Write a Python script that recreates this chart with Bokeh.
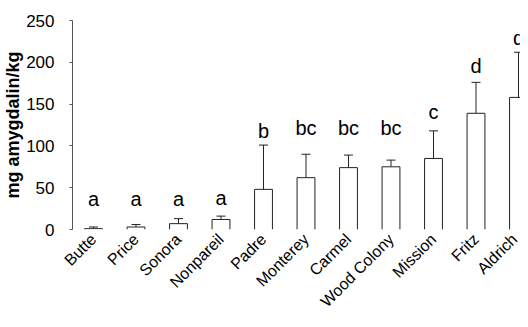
import math
from bokeh.plotting import figure
from bokeh.models import ColumnDataSource, Range1d, FixedTicker, Whisker, TeeHead
from bokeh.core.properties import value
from bokeh.embed import file_html
from bokeh.resources import INLINE

# ---- data ----
cultivars = ["Butte", "Price", "Sonora", "Nonpareil", "Padre", "Monterey",
             "Carmel", "Wood Colony", "Mission", "Fritz", "Aldrich"]
amygdalin = [1, 3, 7, 12, 48, 62, 74, 75, 85, 139, 158]   # mg amygdalin/kg
error = [2, 3, 6, 4, 53, 28, 15, 8, 33, 37, 54]
groups = ["a", "a", "a", "a", "b", "bc", "bc", "bc", "c", "d", "d"]
group_y = [37, 37, 37, 38, 118, 122, 122, 122, 141, 196, 229]
y_ticks = [0, 50, 100, 150, 200, 250]

FONT = "Liberation Sans"
BAR_W = 0.42

xs = list(range(len(cultivars)))
upper = [v + e for v, e in zip(amygdalin, error)]

# open-bottom bar outlines built from the values
outline_xs = [[x - BAR_W / 2, x - BAR_W / 2, x + BAR_W / 2, x + BAR_W / 2] for x in xs]
outline_ys = [[0, v, v, 0] for v in amygdalin]

src = ColumnDataSource(dict(x=xs, top=amygdalin, upper=upper,
                            grp=groups, gy=group_y,
                            oxs=outline_xs, oys=outline_ys))

p = figure(width=520, height=319,
           x_range=Range1d(-0.494, 10.047), y_range=Range1d(0, 250),
           output_backend="svg", toolbar_location=None,
           min_border_left=72, min_border_right=0,
           min_border_top=20, min_border_bottom=88)
p.outline_line_color = None
p.xgrid.visible = False
p.ygrid.visible = False
p.background_fill_color = "white"
p.border_fill_color = "white"

p.vbar(x="x", top="top", bottom=0, width=BAR_W, source=src,
       fill_color="white", line_color=None)
p.multi_line(xs="oxs", ys="oys", source=src, line_color="#222222", line_width=1)

w = Whisker(source=src, base="x", lower="top", upper="upper", dimension="height",
            line_color="#222222", line_width=1,
            upper_head=TeeHead(size=9, line_color="#222222", line_width=1),
            lower_head=None)
p.add_layout(w)

p.text(x="x", y="gy", text="grp", source=src,
       text_font=value(FONT), text_font_size="20px", text_color="black",
       text_align="center", text_baseline="alphabetic")

# y axis
ya = p.yaxis[0]
ya.ticker = FixedTicker(ticks=y_ticks)
ya.minor_tick_line_color = None
ya.major_tick_in = 0
ya.major_tick_out = 3
ya.axis_line_color = "#555555"
ya.major_tick_line_color = "#555555"
ya.major_label_text_font = FONT
ya.major_label_text_font_size = "17px"
ya.major_label_text_color = "black"
ya.major_label_standoff = 15
ya.axis_label = "mg amygdalin/kg"
ya.axis_label_text_font = FONT
ya.axis_label_text_font_size = "18px"
ya.axis_label_text_font_style = "bold"
ya.axis_label_text_color = "black"
ya.axis_label_standoff = 0

# x axis
xa = p.xaxis[0]
xa.ticker = FixedTicker(ticks=xs)
xa.major_label_overrides = {i: name for i, name in enumerate(cultivars)}
xa.axis_line_color = None
xa.major_tick_line_color = None
xa.minor_tick_line_color = None
xa.major_tick_in = 0
xa.major_tick_out = 0
xa.major_label_orientation = math.pi / 4
xa.major_label_text_font = FONT
xa.major_label_text_font_size = "16px"
xa.major_label_text_color = "black"
xa.major_label_standoff = 7

open("out.html", "w").write(file_html(p, INLINE))
